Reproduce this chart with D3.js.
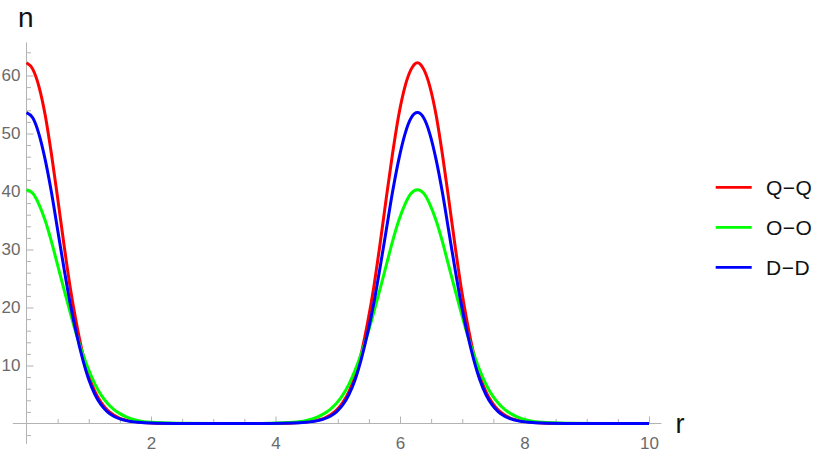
<!DOCTYPE html>
<html>
<head>
<meta charset="utf-8">
<script src="https://cdn.jsdelivr.net/npm/d3@7"></script>
<style>
  html, body { margin: 0; padding: 0; background: #fff; }
  svg { display: block; font-family: "Liberation Sans", Arial, sans-serif; }
</style>
</head>
<body>
<svg id="chart" width="830" height="459"></svg>
<script>
// ---- data ----
const r = [0,0.1,0.2,0.3,0.4,0.5,0.6,0.7,0.8,0.9,1.0,1.1,1.2,1.3,1.4,1.5,1.6,1.8,2.0,2.4,
  3.0,3.5,3.9,4.28,4.48,4.68,
  4.78,4.88,4.98,5.08,5.18,5.28,5.38,5.48,5.58,5.68,5.78,5.88,5.98,6.08,6.18,
  6.28,
  6.38,6.48,6.58,6.68,6.78,6.88,6.98,7.08,7.18,7.28,7.38,7.48,7.58,7.68,7.78,7.88,
  8.08,8.28,8.68,9.2,10];

const QQ = [62.2,61.1,58.1,53.2,46.5,38.9,31.0,23.6,17.4,12.2,8.3,5.5,3.6,2.3,1.45,0.9,0.58,0.24,0.1,0.02,
  0,0,0.02,0.1,0.24,0.58,
  0.9,1.45,2.3,3.6,5.5,8.3,12.2,17.4,23.6,31.0,38.9,46.5,53.2,58.1,61.1,
  62.2,
  61.1,58.1,53.2,46.5,38.9,31.0,23.6,17.4,12.2,8.3,5.5,3.6,2.3,1.45,0.9,0.58,
  0.24,0.1,0.02,0,0];

const OO = [40.3,39.7,37.8,35.0,31.4,27.3,23.2,19.2,15.4,12.1,9.2,6.8,4.9,3.5,2.45,1.7,1.15,0.5,0.22,0.05,
  0,0,0.05,0.22,0.5,1.15,
  1.7,2.45,3.5,4.9,6.8,9.2,12.1,15.4,19.2,23.2,27.3,31.4,35.0,37.8,39.7,
  40.3,
  39.7,37.8,35.0,31.4,27.3,23.2,19.2,15.4,12.1,9.2,6.8,4.9,3.5,2.45,1.7,1.15,
  0.5,0.22,0.05,0,0];

const DD = [53.6,52.7,49.9,45.5,39.9,33.4,26.9,20.8,15.6,11.2,7.6,5.0,3.2,2.0,1.25,0.8,0.5,0.2,0.08,0.015,
  0,0,0.015,0.08,0.2,0.5,
  0.8,1.25,2.0,3.2,5.0,7.6,11.2,15.6,20.8,26.9,33.4,39.9,45.5,49.9,52.7,
  53.6,
  52.7,49.9,45.5,39.9,33.4,26.9,20.8,15.6,11.2,7.6,5.0,3.2,2.0,1.25,0.8,0.5,
  0.2,0.08,0.015,0,0];

const seriesNames = ["Q\u2212Q", "O\u2212O", "D\u2212D"];
const seriesColors = ["#ff0000", "#00ff00", "#0000ff"];
const seriesValues = [QQ, OO, DD];

const xMajorTicks = [2, 4, 6, 8, 10];
const xMinorTicks = [0.5,1,1.5,2.5,3,3.5,4.5,5,5.5,6.5,7,7.5,8.5,9,9.5];
const yMajorTicks = [10, 20, 30, 40, 50, 60];
const yMinorTicks = [-2,2,4,6,8,12,14,16,18,22,24,26,28,32,34,36,38,42,44,46,48,52,54,56,58,62,64];

// ---- layout ----
const svg = d3.select("#chart");
const x = d3.scaleLinear().domain([0, 10]).range([26.5, 649]);
const y = d3.scaleLinear().domain([0, 60]).range([423.5, 75.5]);

const axisColor = "#b3b3b3";
const labelColor = "#6a6a6a";

// axis lines (extend slightly beyond range, Mathematica style)
svg.append("line")
  .attr("x1", x(-0.22)).attr("x2", x(10.2))
  .attr("y1", y(0)).attr("y2", y(0))
  .attr("stroke", axisColor).attr("stroke-width", 1);
svg.append("line")
  .attr("x1", x(0)).attr("x2", x(0))
  .attr("y1", y(-3.5)).attr("y2", y(65.7))
  .attr("stroke", axisColor).attr("stroke-width", 1);

function styleAxis(g) {
  g.select(".domain").remove();
  g.selectAll(".tick line").attr("stroke", axisColor);
  g.selectAll(".tick text").attr("fill", labelColor)
    .style("font-size", "17px")
    .style("font-family", "'Liberation Sans', Arial, sans-serif");
}

// x axis
svg.append("g").attr("transform", `translate(0,${y(0)})`)
  .call(d3.axisBottom(x).tickValues(xMinorTicks).tickSize(-4.5).tickFormat(""))
  .call(styleAxis);
svg.append("g").attr("transform", `translate(0,${y(0)})`)
  .call(d3.axisBottom(x).tickValues(xMajorTicks).tickSize(-7).tickPadding(13).tickFormat(d3.format("d")))
  .call(styleAxis);

// y axis
svg.append("g").attr("transform", `translate(${x(0)},0)`)
  .call(d3.axisLeft(y).tickValues(yMinorTicks).tickSize(-4.5).tickFormat(""))
  .call(styleAxis);
svg.append("g").attr("transform", `translate(${x(0)},0)`)
  .call(d3.axisLeft(y).tickValues(yMajorTicks).tickSize(-7).tickPadding(6).tickFormat(d3.format("d")))
  .call(g => {
    styleAxis(g);
    g.selectAll(".tick text").attr("x", -6);
  });

// axis labels
svg.append("text").attr("x", 18).attr("y", 26.7)
  .attr("fill", "#111").style("font-size", "28px").text("n");
svg.append("text").attr("x", 675.5).attr("y", 433)
  .attr("fill", "#111").style("font-size", "27px").text("r");

// curves
const line = d3.line()
  .x(d => x(d[0]))
  .y(d => y(d[1]))
  .curve(d3.curveMonotoneX);

seriesValues.forEach((vals, i) => {
  const pts = r.map((rv, j) => [rv, vals[j]]);
  svg.append("path")
    .datum(pts)
    .attr("d", line)
    .attr("fill", "none")
    .attr("stroke", seriesColors[i])
    .attr("stroke-width", 3)
    .attr("stroke-linejoin", "round");
});

// legend
const legendY = [187.3, 227.3, 267.3];
seriesNames.forEach((name, i) => {
  svg.append("line")
    .attr("x1", 715.7).attr("x2", 751.7)
    .attr("y1", legendY[i]).attr("y2", legendY[i])
    .attr("stroke", seriesColors[i]).attr("stroke-width", 2.8);
  svg.append("text")
    .attr("x", 766).attr("y", legendY[i])
    .attr("dy", "0.36em")
    .attr("fill", "#111")
    .style("font-size", "21px")
    .style("letter-spacing", "0.5px")
    .text(name);
});
</script>
</body>
</html>
